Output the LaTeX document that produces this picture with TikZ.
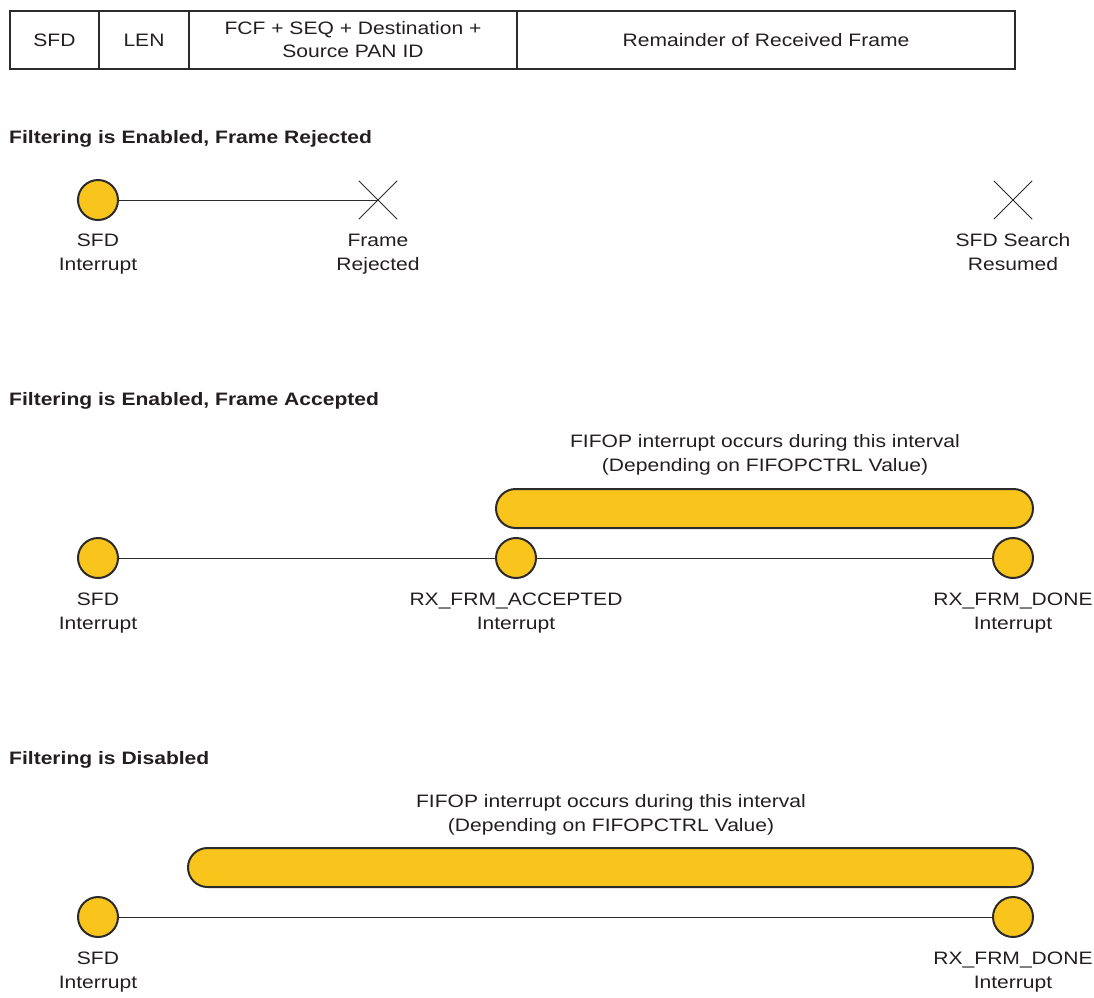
\documentclass[tikz,border=0pt]{standalone}
\usepackage{fontspec}
\setmainfont[FakeStretch=1.17]{Liberation Sans}
\begin{document}
\definecolor{eventfill}{HTML}{F9C41C}
\definecolor{linegray}{HTML}{2B2B2B}
\definecolor{inkgray}{HTML}{231F20}
\begin{tikzpicture}[x=1pt,y=-1pt,
  every node/.style={font=\fontsize{18}{24}\selectfont,text=inkgray},
  cell/.style={draw=linegray,line width=2pt,minimum height=58pt,inner sep=0pt,align=center,anchor=north west},
  celltext/.style={anchor=base,inner sep=0pt,align=center},
  event/.style={circle,draw=linegray,line width=2pt,fill=eventfill,minimum size=40pt,inner sep=0pt},
  reject/.style={draw=none,minimum size=38pt,inner sep=0pt},
  timeline/.style={draw=linegray,line width=1pt},
  window/.style={draw=linegray,line width=2pt,fill=eventfill,rounded corners=19.5pt},
  caption/.style={align=center,anchor=base,inner sep=0pt},
  heading/.style={font=\fontsize{18}{20}\selectfont\bfseries,anchor=base west,inner sep=0pt}]
\useasboundingbox (0,0) rectangle (1094,997);

% frame layout header (text anchors sit on the baseline of the last line)
\node[cell,minimum width=89pt] (hsfd) at (9,10) {};
\node[cell,minimum width=90pt] (hlen) at (98,10) {};
\node[cell,minimum width=328pt] (hfcf) at (188,10) {};
\node[cell,minimum width=498pt] (hrem) at (516,10) {};
\node[celltext] at ([yshift=-6pt]hsfd.center) {SFD};
\node[celltext] at ([yshift=-6pt]hlen.center) {LEN};
\node[celltext] at ([yshift=-17pt]hfcf.center) {FCF + SEQ + Destination +\\[-1pt]Source PAN ID};
\node[celltext] at ([yshift=-6pt]hrem.center) {Remainder of Received Frame};

% case 1: filtering enabled, frame rejected
\node[heading] (t1) at (9,143) {Filtering is Enabled, Frame Rejected};
\node[event] (a1) at (98,200) {};
\node[reject] (x1) at (378,200) {};
\node[reject] (x2) at (1013,200) {};
\draw[timeline] (a1) -- (x1.center);
\foreach \n in {x1,x2}{
  \draw[linegray,line width=1pt] (\n.north west) -- (\n.south east);
  \draw[linegray,line width=1pt] (\n.north east) -- (\n.south west);
}
\node[caption] (l1a) at (98,270) {SFD\\Interrupt};
\node[caption] (l1b) at (378,270) {Frame\\Rejected};
\node[caption] (l1c) at (1013,270) {SFD Search\\Resumed};

% case 2: filtering enabled, frame accepted
\node[heading] (t2) at (9,405) {Filtering is Enabled, Frame Accepted};
\node[caption] (w2) at (765,471) {FIFOP interrupt occurs during this interval\\(Depending on FIFOPCTRL Value)};
\draw[window] (496,489) rectangle (1033,528);
\node[event] (b1) at (98,558) {};
\node[event] (b2) at (516,558) {};
\node[event] (b3) at (1013,558) {};
\draw[timeline] (b1) -- (b2) -- (b3);
\node[caption] (l2a) at (98,629) {SFD\\Interrupt};
\node[caption] (l2b) at (516,629) {RX\_FRM\_ACCEPTED\\Interrupt};
\node[caption] (l2c) at (1013,629) {RX\_FRM\_DONE\\Interrupt};

% case 3: filtering disabled
\node[heading] (t3) at (9,764) {Filtering is Disabled};
\node[caption] (w3) at (611,831) {FIFOP interrupt occurs during this interval\\(Depending on FIFOPCTRL Value)};
\draw[window] (188,848) rectangle (1033,887);
\node[event] (c1) at (98,917) {};
\node[event] (c2) at (1013,917) {};
\draw[timeline] (c1) -- (c2);
\node[caption] (l3a) at (98,988) {SFD\\Interrupt};
\node[caption] (l3b) at (1013,988) {RX\_FRM\_DONE\\Interrupt};
\end{tikzpicture}
\end{document}
